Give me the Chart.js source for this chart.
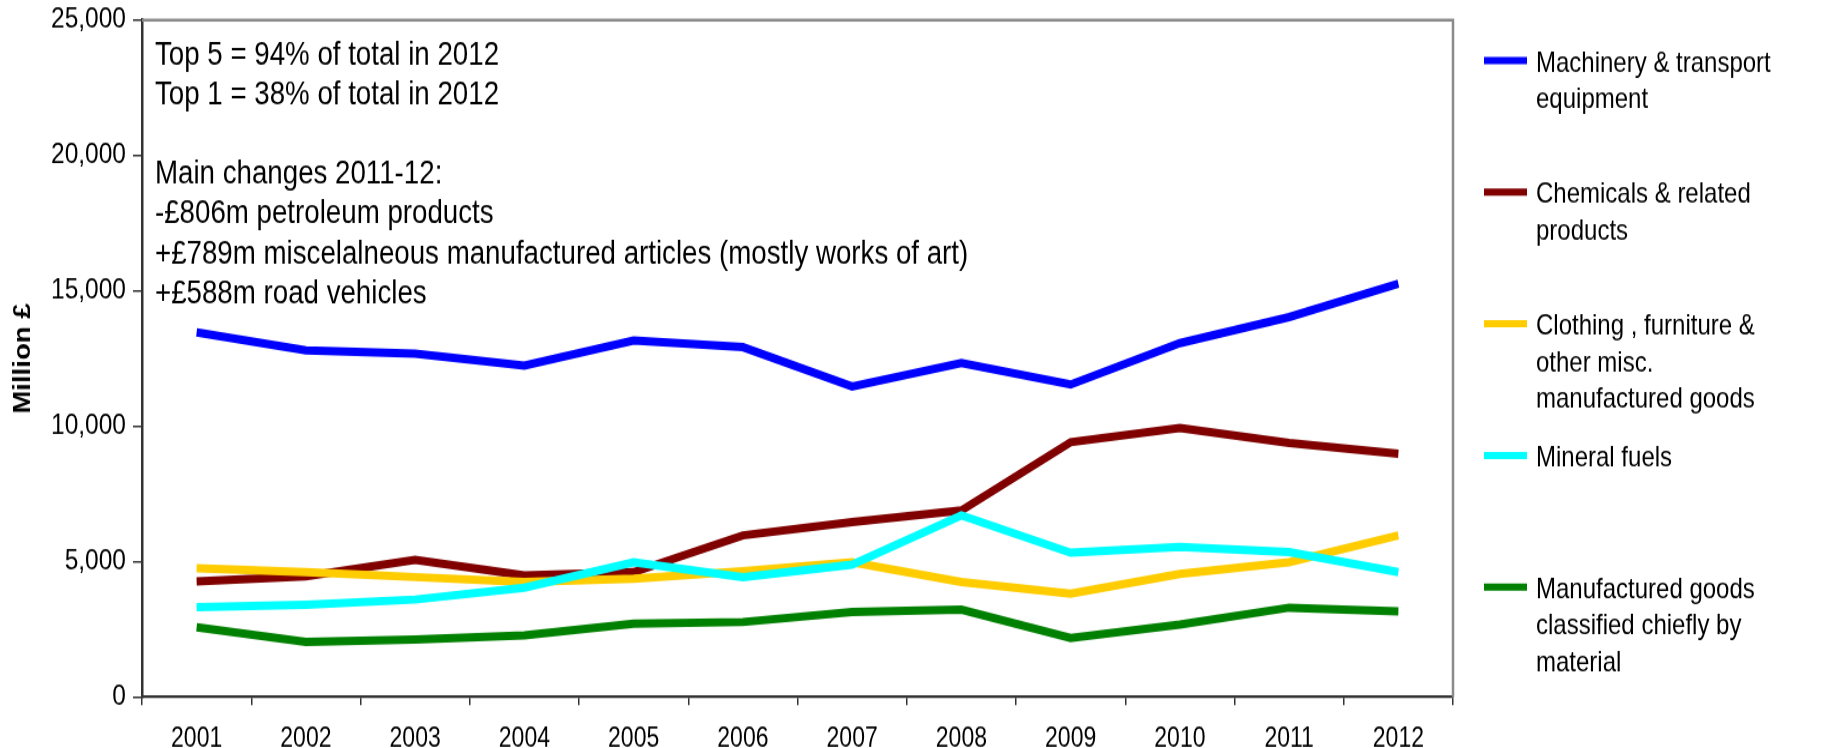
<!DOCTYPE html>
<html>
<head>
<meta charset="utf-8">
<script src="https://cdn.jsdelivr.net/npm/chart.js@4/dist/chart.umd.min.js"></script>
<style>
  html, body { margin: 0; padding: 0; background: #ffffff; }
  #page { width: 1839px; height: 748px; position: relative; }
  /* the chart is laid out on a 1839x624 canvas and shown stretched to 748px tall */
  #wrap { position: absolute; left: 0; top: 0; width: 1839px; height: 624px; transform-origin: 0 0; transform: scale(1, 1.19872); }
</style>
</head>
<body>
<div id="page"><div id="wrap"><canvas id="chart" width="1839" height="624"></canvas></div></div>
<script>
// UK trade by commodity group, million £
const years = ['2001','2002','2003','2004','2005','2006','2007','2008','2009','2010','2011','2012'];

const machinery    = [13470, 12800, 12680, 12240, 13170, 12920, 11470, 12330, 11540, 13070, 14030, 15260];
const chemicals    = [4270, 4460, 5070, 4490, 4610, 5970, 6460, 6890, 9410, 9940, 9380, 8980];
const clothing     = [4760, 4610, 4430, 4250, 4370, 4650, 4980, 4250, 3820, 4550, 4980, 5970];
const mineralFuels = [3320, 3410, 3600, 4040, 4980, 4430, 4890, 6710, 5330, 5540, 5350, 4610];
const manufactured = [2580, 2030, 2120, 2280, 2710, 2770, 3140, 3230, 2180, 2680, 3300, 3160];

const seriesLabels = [
  ['Machinery & transport', 'equipment'],
  ['Chemicals & related', 'products'],
  ['Clothing , furniture &', 'other misc.', 'manufactured goods'],
  ['Mineral fuels'],
  ['Manufactured goods', 'classified chiefly by', 'material']
];
const seriesColors = ['#0000ff', '#800000', '#ffcc00', '#00ffff', '#008000'];
const seriesValues = [machinery, chemicals, clothing, mineralFuels, manufactured];

const yMin = 0, yMax = 25000, yStep = 5000;
const yTitle = 'Million £';

const noteLines = [
  'Top 5 = 94% of total in 2012',
  'Top 1 = 38% of total in 2012',
  '',
  'Main changes 2011-12:',
  '-£806m petroleum products',
  '+£789m miscelalneous manufactured articles (mostly works of art)',
  '+£588m road vehicles'
];

const FONT = '"Liberation Sans", Arial, sans-serif';

// Frame (top/right), note text block and the series key on the right
const decorations = {
  id: 'decorations',
  afterDatasetsDraw(chart) {
    const { ctx, chartArea: a } = chart;
    ctx.save();
    ctx.strokeStyle = '#8a8a8a';
    ctx.lineWidth = 2.5;
    ctx.beginPath();
    ctx.moveTo(a.left, a.top);
    ctx.lineTo(a.right, a.top);
    ctx.lineTo(a.right, a.bottom);
    ctx.stroke();

    ctx.fillStyle = '#000';
    ctx.font = '27.7px ' + FONT;
    ctx.textBaseline = 'middle';
    ctx.textAlign = 'left';
    noteLines.forEach((t, i) => {
      if (t) ctx.fillText(t, a.left + 13, a.top + 29.2 + i * 33.2);
    });
    ctx.restore();
  },
  afterDraw(chart) {
    const { ctx } = chart;
    ctx.save();
    ctx.font = '24px ' + FONT;
    ctx.textBaseline = 'middle';
    ctx.textAlign = 'left';
    chart.data.datasets.forEach((ds, i) => {
      const y0 = 53 + i * 109.8;
      ctx.strokeStyle = ds.borderColor;
      ctx.lineWidth = 6;
      ctx.beginPath();
      ctx.moveTo(1484, y0 - 2.5);
      ctx.lineTo(1527, y0 - 2.5);
      ctx.stroke();
      ctx.fillStyle = '#000';
      seriesLabels[i].forEach((line, j) => {
        ctx.fillText(line, 1536, y0 + j * 30.5);
      });
    });
    ctx.restore();
  }
};

const datasets = seriesValues.map((vals, i) => ({
  label: seriesLabels[i].join(' '),
  data: vals,
  borderColor: seriesColors[i],
  backgroundColor: seriesColors[i],
  borderWidth: 7,
  borderCapStyle: 'butt',
  borderJoinStyle: 'miter',
  pointRadius: 0,
  tension: 0,
  fill: false,
  order: seriesValues.length - i
}));

new Chart(document.getElementById('chart'), {
  type: 'line',
  data: { labels: years, datasets },
  options: {
    responsive: false,
    devicePixelRatio: 1,
    animation: false,
    layout: { padding: { top: 16.7, right: 386, bottom: 0, left: 0 } },
    plugins: { legend: { display: false }, tooltip: { enabled: false } },
    scales: {
      x: {
        type: 'category',
        offset: true,
        grid: { offset: true, drawOnChartArea: false, drawTicks: true, tickLength: 6.7, color: '#333', lineWidth: 1.5 },
        border: { display: true, color: '#333', width: 2.2 },
        ticks: { color: '#000', font: { family: FONT, size: 23 }, padding: 14.5, maxRotation: 0, autoSkip: false },
        afterFit(s) { s.height = 42.55; s.paddingLeft = 0; s.paddingRight = 0; }
      },
      y: {
        min: yMin, max: yMax,
        grid: { drawOnChartArea: false, drawTicks: true, tickLength: 9, color: '#333', lineWidth: 1.5 },
        border: { display: true, color: '#333', width: 2.5 },
        ticks: {
          stepSize: yStep,
          color: '#000',
          font: { family: FONT, size: 24.5 },
          padding: 7,
          callback: v => v.toLocaleString('en-GB')
        },
        title: { display: true, text: yTitle, color: '#000', font: { family: FONT, size: 23, weight: 'bold' }, padding: { top: 9.5, bottom: 0 } },
        afterFit(s) { s.width = 142; s.paddingTop = 0; s.paddingBottom = 0; }
      }
    }
  },
  plugins: [decorations]
});
</script>
</body>
</html>
